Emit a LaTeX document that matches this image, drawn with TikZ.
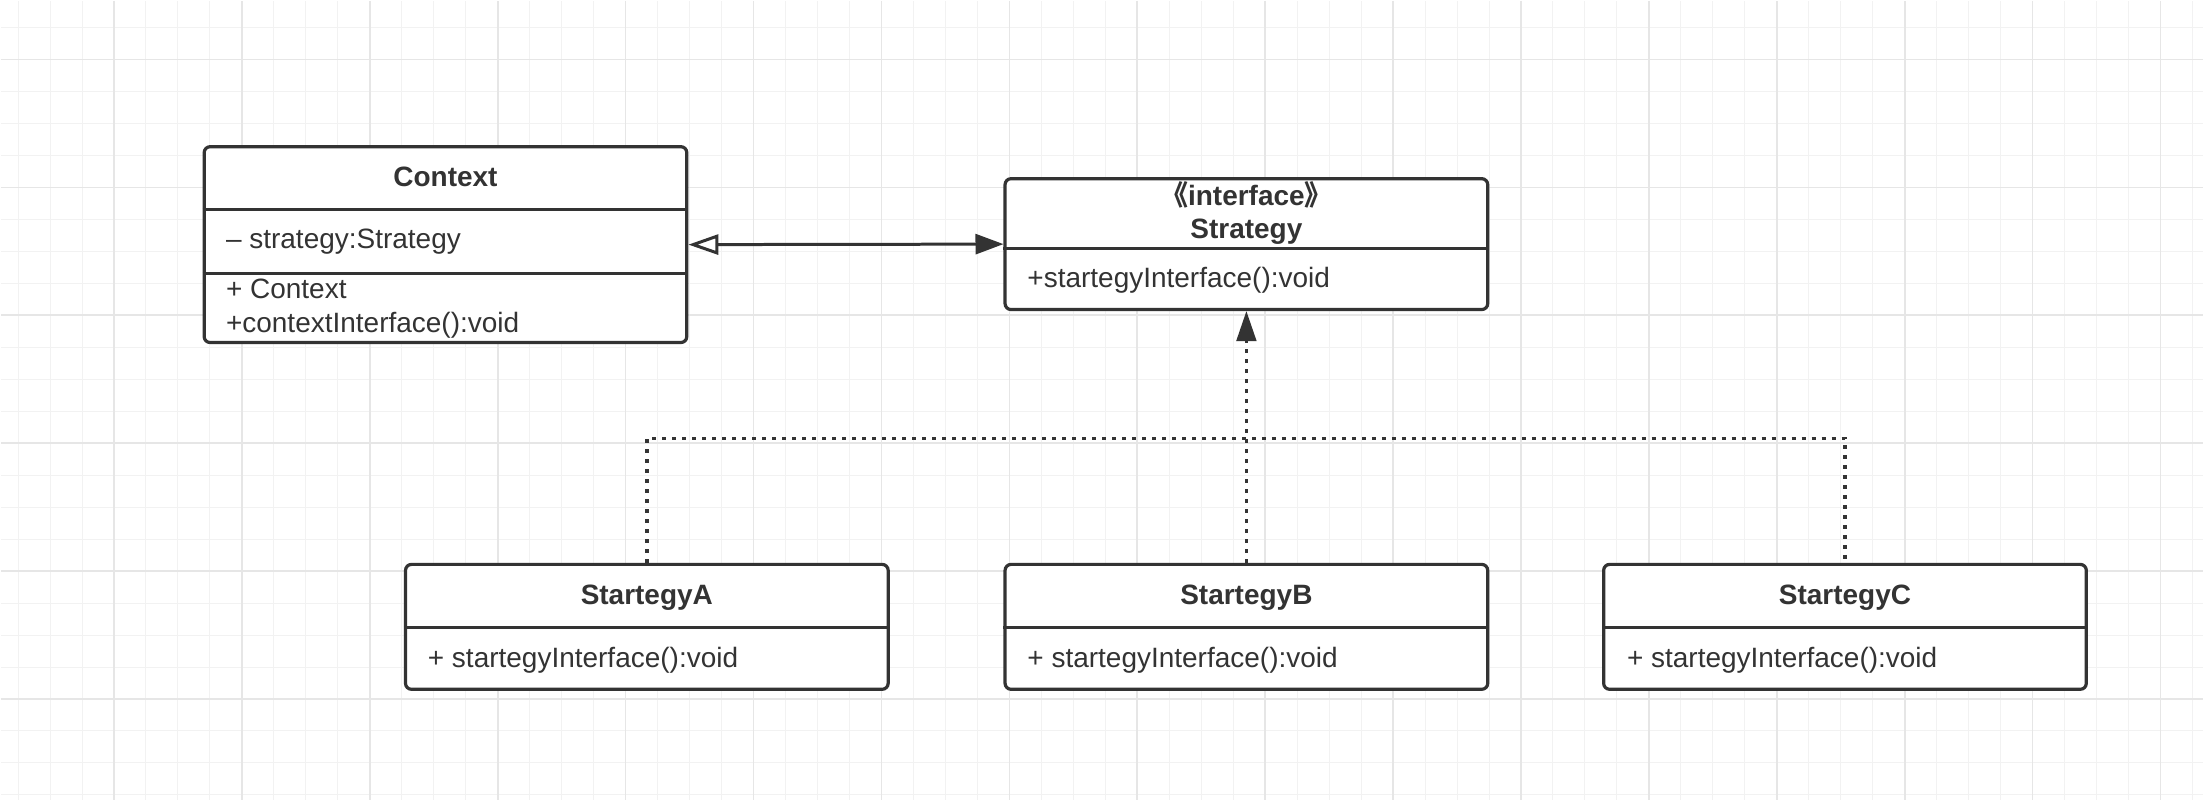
\documentclass[tikz,border=0pt]{standalone}
\usepackage{fontspec}
\setmainfont{Liberation Sans}
\newfontfamily\cjk{Noto Sans CJK SC}
\usepackage{tikz}
\usetikzlibrary{arrows.meta}

\definecolor{ink}{HTML}{333333}
\definecolor{gridminor}{HTML}{F2F2F2}
\definecolor{gridmajor}{HTML}{E6E6E6}

\tikzset{
  umlbox/.style={draw=ink, line width=1.6pt, rounded corners=3pt, fill=white,
    inner sep=0pt, minimum width=241.5pt},
  divider/.style={draw=ink, line width=1.6pt},
  head/.style={text=ink, font=\fontsize{14pt}{16pt}\selectfont\bfseries,
    inner sep=0pt, anchor=base},
  member/.style={text=ink, font=\fontsize{14pt}{16pt}\selectfont,
    inner sep=0pt, anchor=base west},
  assoc/.style={draw=ink, line width=1.5pt,
    {Triangle[open, length=15pt, width=10pt]}-{Triangle[length=14pt, width=10pt]}},
  bus/.style={draw=ink, line width=1.9pt, dash pattern=on 2pt off 3pt},
  realize/.style={bus, -{Triangle[length=15pt, width=10pt, line width=1pt]}},
  minorgrid/.style={draw=gridminor, line width=0.5pt},
  majorgrid/.style={draw=gridmajor, line width=0.8pt},
}

\begin{document}
\begin{tikzpicture}[x=0.5pt, y=-0.5pt]
\fill[white] (0,0) rectangle (2204,800);
\foreach \gx in {0,...,68} \draw[minorgrid] ({17.3+32*\gx},0) -- ++(0,800);
\foreach \gy in {0,...,24} \draw[minorgrid] (0,{26.7+32*\gy}) -- ++(2204,0);
\foreach \gx in {0,...,16} \draw[majorgrid] ({113.3+128*\gx},0) -- ++(0,800);
\foreach \gy in {0,...,5} \draw[majorgrid] (0,{58.7+128*\gy}) -- ++(2204,0);
\useasboundingbox (0,0) rectangle (2204,800);

\node[umlbox, minimum height=98pt]   (context)  at (445,244)     {};
\node[umlbox, minimum height=65.5pt] (strategy) at (1246.5,243.5) {};
\node[umlbox, minimum height=62.5pt] (stA)      at (646.5,626.5)  {};
\node[umlbox, minimum height=62.5pt] (stB)      at (1246.5,626.5) {};
\node[umlbox, minimum height=62.5pt] (stC)      at (1845.5,626.5) {};

\draw[divider]
   (context.west |- 0,209) -- (context.east |- 0,209)
   (context.west |- 0,273) -- (context.east |- 0,273)
   (strategy.west |- 0,248) -- (strategy.east |- 0,248)
   (stA.west |- 0,627) -- (stA.east |- 0,627)
   (stB.west |- 0,627) -- (stB.east |- 0,627)
   (stC.west |- 0,627) -- (stC.east |- 0,627)
;

\node[head]   (ctxname)   at (445,186)    {Context};
\node[member] (ctxattr)   at (225,248)    {– strategy:Strategy};
\node[member] (ctxnew)    at (225,298)    {+ Context};
\node[member] (ctxop)     at (225,332)    {+contextInterface():void};
\node[head]   (stereo)    at (1246.5,205) {{\cjk 《}interface{\cjk 》}};
\node[head]   (stratname) at (1246.5,238) {Strategy};
\node[member] (stratop)   at (1027,287)   {+startegyInterface():void};
\node[head]   (nameA)     at (646.5,604)  {StartegyA};
\node[member] (opA)       at (427,667)    {+ startegyInterface():void};
\node[head]   (nameB)     at (1246.5,604) {StartegyB};
\node[member] (opB)       at (1027,667)   {+ startegyInterface():void};
\node[head]   (nameC)     at (1845.5,604) {StartegyC};
\node[member] (opC)       at (1627,667)   {+ startegyInterface():void};

\coordinate (join) at (1246.5,438);
\draw[assoc] (context.east) -- (strategy.west);
\draw[realize] (stB.north) -- (strategy.south);
\draw[bus] (stA.north) |- (join) -| (stC.north);
\end{tikzpicture}
\end{document}
